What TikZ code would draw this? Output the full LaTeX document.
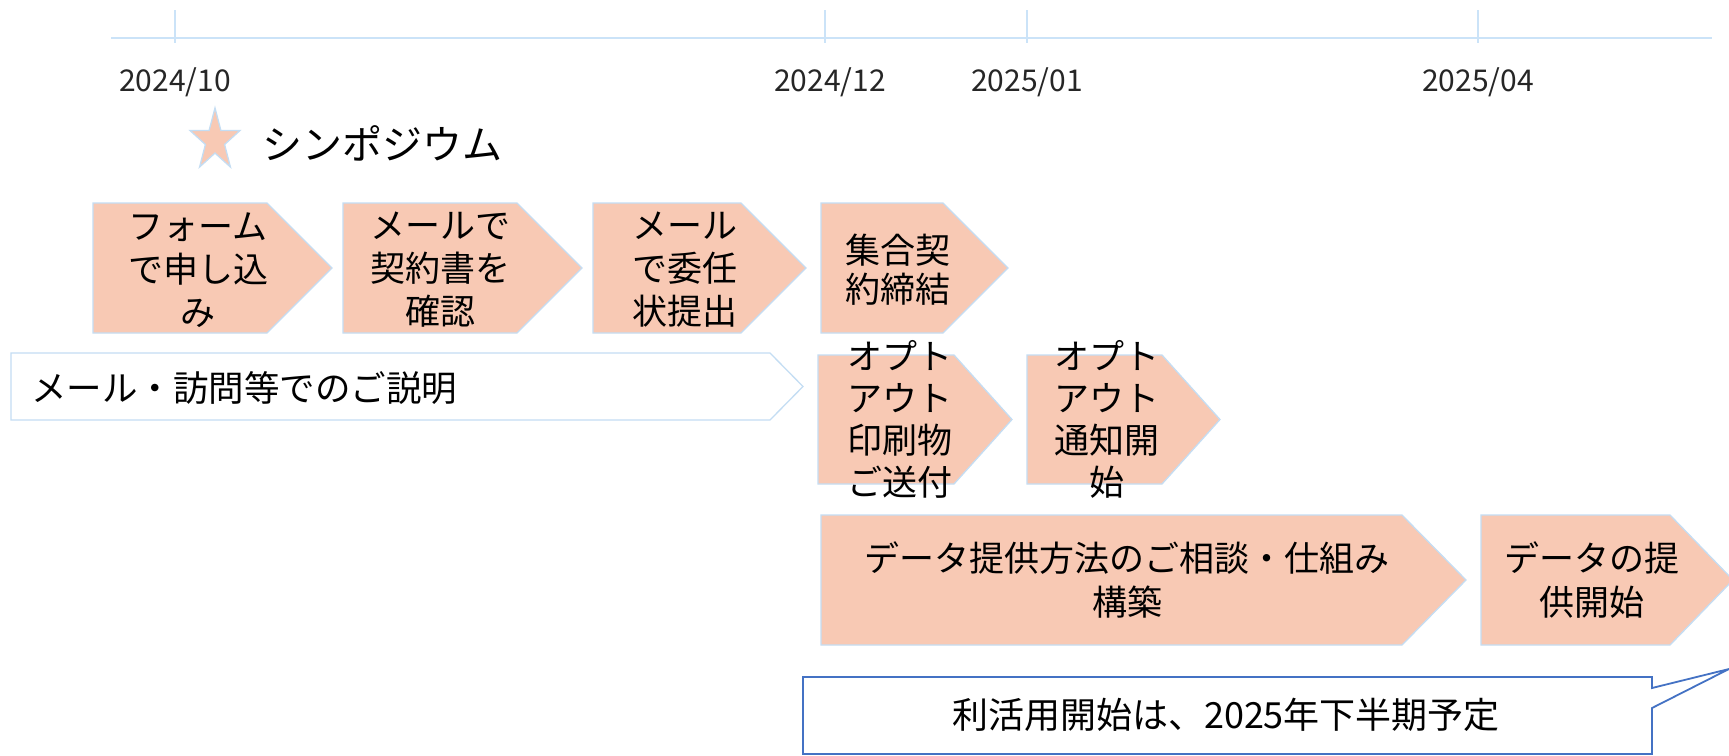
\documentclass[tikz,border=0pt]{standalone}
\usepackage{fontspec}
\setmainfont{Noto Sans CJK JP}
\definecolor{salmon}{HTML}{F8C9B4}
\definecolor{edgeblue}{HTML}{C4DDF3}
\definecolor{lineblue}{HTML}{CBE3F8}
\definecolor{callblue}{HTML}{4472C4}
\tikzset{
  chev/.style={fill=salmon, draw=edgeblue, line width=1.3pt, line join=miter},
  whitechev/.style={fill=white, draw=edgeblue, line width=1.3pt},
  lbl/.style={align=center, inner sep=0pt, font=\fontsize{35}{43}\selectfont},
  datelbl/.style={inner sep=0pt, font=\fontsize{30}{36}\selectfont, text=black!85},
  tl/.style={draw=lineblue, line width=2.2pt},
}
% x1 y1 x2(tip) y2 depth
\newcommand\mychev[6]{\path[#1] (#2,#3) -- ({#4-#6},#3) -- (#4,{(#3+#5)/2}) -- ({#4-#6},#5) -- (#2,#5) -- cycle;}
\begin{document}
\begin{tikzpicture}[x=1pt,y=-1pt]
\fill[white] (0,0) rectangle (1729,755);
\useasboundingbox (0,0) rectangle (1729,755);

% timeline
\coordinate (tlA) at (111,38);
\coordinate (tlB) at (1712,38);
\draw[tl] (tlA) -- (tlB);
\foreach \x/\n in {175/t1,825/t2,1027/t3,1478/t4}{
  \coordinate (\n a) at (\x,10);
  \coordinate (\n b) at (\x,43);
  \draw[tl] (\n a) -- (\n b);
}
\node[datelbl] (d1) at (175,82) {2024/10};
\node[datelbl] (d2) at (830,82) {2024/12};
\node[datelbl] (d3) at (1027,82) {2025/01};
\node[datelbl] (d4) at (1478,82) {2025/04};

% star
\draw[fill=salmon, draw=edgeblue, line width=1.3pt]
  (215,108) -- (209.1,130.5) -- (190.0,130.5) -- (205.4,144.5) -- (199.6,167.0)
  -- (215,153.1) -- (230.4,167.0) -- (224.6,144.5) -- (240.0,130.5) -- (220.9,130.5) -- cycle;
\node[anchor=west, inner sep=0pt, font=\fontsize{40}{48}\selectfont] (sym) at (262,143) {シンポジウム};

% row 1
\mychev{chev}{93}{203}{332}{333}{65}
\node[lbl] (a1) at (198,270) {フォーム\\で申し込\\み};
\mychev{chev}{343}{203}{582}{333}{65}
\node[lbl] (a2) at (440,270) {メールで\\契約書を\\確認};
\mychev{chev}{593}{203}{806}{333}{65}
\node[lbl] (a3) at (685,270) {メール\\で委任\\状提出};
\mychev{chev}{821}{203}{1008}{333}{65}
\node[lbl, font=\fontsize{35}{39}\selectfont] (a4) at (898,270) {集合契\\約締結};

% row 2
\mychev{whitechev}{11}{353}{803}{420}{33}
\node[anchor=west, inner sep=0pt, font=\fontsize{35.5}{43}\selectfont] (b0) at (31,388) {メール・訪問等でのご説明};
\mychev{chev}{818}{355}{1012}{484}{58}
\node[lbl, font=\fontsize{35}{42}\selectfont] (b1) at (900,419) {オプト\\アウト\\印刷物\\ご送付};
\mychev{chev}{1027}{355}{1220}{484}{58}
\node[lbl, font=\fontsize{35}{42}\selectfont] (b2) at (1107,419) {オプト\\アウト\\通知開\\始};

% row 3
\mychev{chev}{821}{515}{1466}{645}{64}
\node[lbl, font=\fontsize{35}{44}\selectfont] (c1) at (1127,580) {データ提供方法のご相談・仕組み\\構築};
\mychev{chev}{1481}{515}{1733}{645}{63}
\node[lbl, font=\fontsize{35}{44}\selectfont] (c2) at (1592,580) {データの提\\供開始};

% callout
\coordinate (ctip) at (1729,669);
\draw[fill=white, draw=callblue, line width=1.8pt, line join=miter]
  (803,677) -- (1652,677) -- (1652,688) -- (ctip) -- (1652,708) -- (1652,754) -- (803,754) -- cycle;
\node[inner sep=0pt, font=\fontsize{36}{43}\selectfont] (note) at (1226,715) {利活用開始は、2025年下半期予定};
\end{tikzpicture}
\end{document}
